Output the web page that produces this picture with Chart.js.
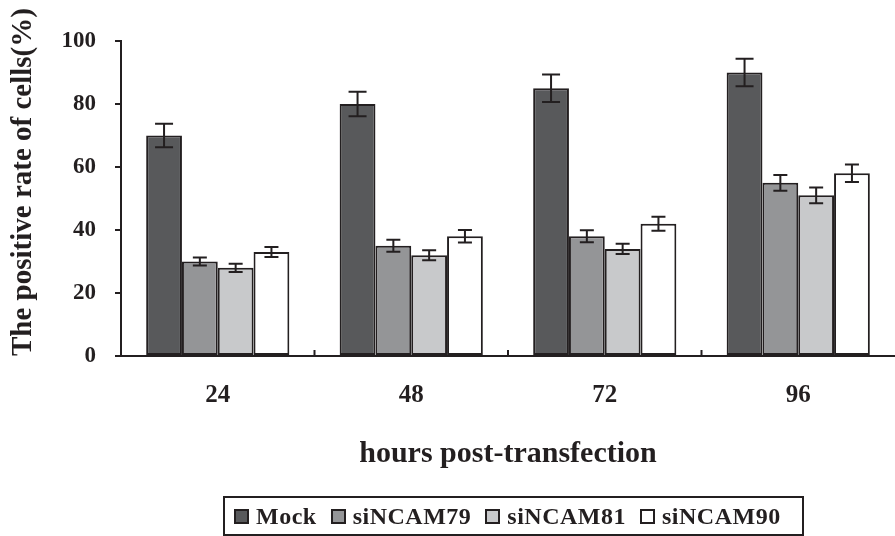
<!DOCTYPE html>
<html>
<head>
<meta charset="utf-8">
<script src="https://cdn.jsdelivr.net/npm/chart.js@4/dist/chart.umd.min.js"></script>
<style>
    body{margin:0;background:#fff;}
    #wrap{position:relative;width:895px;height:536px;}
    #legend{position:absolute;left:223px;top:496px;width:568px;height:36px;border:2px solid #231f20;
        font-family:"Liberation Serif",serif;font-weight:bold;font-size:24px;color:#231f20;
        display:flex;align-items:center;padding-left:9px;box-sizing:content-box;}
    #legend span.box{display:inline-block;width:11px;height:11px;border:2px solid #231f20;margin-right:7px;}
    #legend span.item{display:inline-flex;align-items:center;margin-right:14px;letter-spacing:0.5px;}
</style>
</head>
<body>
<div id="wrap">
    <canvas id="chart" width="895" height="536"></canvas>
    <div id="legend"></div>
</div>
<script>
    const hours=["24","48","72","96"];
    const seriesNames=["Mock","siNCAM79","siNCAM81","siNCAM90"];
    const mock=[70,80,85,90];
    const si79=[30,35,38,55];
    const si81=[28,32,34,51];
    const si90=[33,38,42,58];
    const mockErr=[3.7,3.9,4.4,4.4];
    const si79Err=[1.3,1.9,1.9,2.5];
    const si81Err=[1.3,1.6,1.6,2.5];
    const si90Err=[1.6,2.0,2.2,2.8];
    const yTicks=[0,20,40,60,80,100];

    const fills=["#58595b","#949597","#c8c9cb","#ffffff"];
    const ink="#231f20";
    const font="'Liberation Serif', 'Times New Roman', serif";

    // error bars drawn from the scales
    const errorBars={
        id: "errorBars",
        afterDatasetsDraw(chart) {
            const ctx=chart.ctx;
            const yScale=chart.scales.y;
            ctx.save();
            ctx.strokeStyle=ink;
            ctx.lineWidth=2;
            chart.data.datasets.forEach(function(ds,i) {
                const meta=chart.getDatasetMeta(i);
                meta.data.forEach(function(bar,j) {
                    const v=ds.data[j], e=ds.errors[j];
                    const top=yScale.getPixelForValue(v+e);
                    const bot=yScale.getPixelForValue(v-e);
                    const cap=v>60 ? 9 : 7;
                    ctx.beginPath();
                    ctx.moveTo(bar.x,top); ctx.lineTo(bar.x,bot);
                    ctx.moveTo(bar.x-cap,top); ctx.lineTo(bar.x+cap,top);
                    ctx.moveTo(bar.x-cap,bot); ctx.lineTo(bar.x+cap,bot);
                    ctx.stroke();
                });
            });
            ctx.restore();
        },
    };

    // category ticks on the x axis point up, into the plot
    const innerTicks={
        id: "innerTicks",
        afterDraw(chart) {
            const ctx=chart.ctx;
            const xs=chart.scales.x;
            const base=chart.chartArea.bottom;
            ctx.save();
            ctx.strokeStyle=ink;
            ctx.lineWidth=2;
            for (let i=0;i<hours.length-1;i++) {
                const x=(xs.getPixelForValue(i)+xs.getPixelForValue(i+1))/2;
                ctx.beginPath();
                ctx.moveTo(x,base); ctx.lineTo(x,base-6);
                ctx.stroke();
            }
            ctx.restore();
        },
    };

    const values=[mock,si79,si81,si90];
    const errs=[mockErr,si79Err,si81Err,si90Err];

    const ctx=document.getElementById("chart").getContext("2d");
    const chart=new Chart(ctx,{
        type: "bar",
        data: {
            labels: hours,
            datasets: seriesNames.map(function(name,i) {
                return {
                    label: name,
                    data: values[i],
                    errors: errs[i],
                    backgroundColor: fills[i],
                    borderColor: ink,
                    borderWidth: 2,
                    borderSkipped: false,
                    barPercentage: 1,
                    categoryPercentage: 0.74,
                };
            }),
        },
        options: {
            responsive: false,
            animation: false,
            layout: {
                padding: {top: 41, right: 0, bottom: 64, left: 0},
            },
            plugins: {
                legend: {display: false},
                tooltip: {enabled: false},
            },
            scales: {
                x: {
                    afterFit: function(scale) { scale.height=116; },
                    grid: {
                        offset: true,
                        drawOnChartArea: false,
                        drawTicks: false,
                    },
                    border: {color: ink, width: 2},
                    ticks: {
                        color: ink,
                        padding: 25,
                        font: {family: font, size: 25, weight: "bold"},
                    },
                    title: {
                        display: true,
                        text: "hours post-transfection",
                        color: ink,
                        padding: 0,
                        font: {family: font, size: 30, weight: "bold"},
                    },
                },
                y: {
                    min: 0,
                    max: 100,
                    afterFit: function(scale) { scale.width=121; },
                    afterBuildTicks: function(scale) {
                        scale.ticks=yTicks.map(function(v) { return {value: v}; });
                    },
                    grid: {
                        drawOnChartArea: false,
                        drawTicks: true,
                        tickLength: 6,
                        color: ink,
                        lineWidth: 2,
                    },
                    border: {color: ink, width: 2},
                    ticks: {
                        color: ink,
                        padding: 19,
                        font: {family: font, size: 23, weight: "bold"},
                    },
                    title: {
                        display: true,
                        align: "start",
                        text: "The positive rate of cells(%)",
                        color: ink,
                        padding: {top: 6, bottom: 0},
                        font: {family: font, size: 29, weight: "bold"},
                    },
                },
            },
        },
        plugins: [errorBars, innerTicks],
    });

    // legend as html below the chart
    const legendEl=document.getElementById("legend");
    seriesNames.forEach(function(name,i) {
        const item=document.createElement("span");
        item.className="item";
        const box=document.createElement("span");
        box.className="box";
        box.style.background=fills[i];
        item.appendChild(box);
        item.appendChild(document.createTextNode(name));
        legendEl.appendChild(item);
    });
</script>
</body>
</html>
